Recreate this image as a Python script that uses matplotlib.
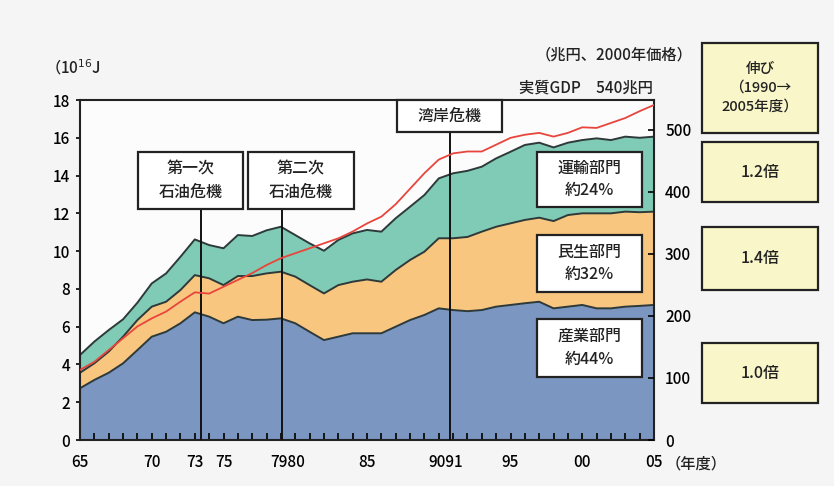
import numpy as np
import matplotlib
matplotlib.use('Agg')
from matplotlib import pyplot as plt
from matplotlib.patches import Rectangle

plt.rcParams['font.family'] = ['Noto Sans CJK JP', 'DejaVu Sans']
plt.rcParams['font.weight'] = 'medium'

years = np.arange(1965, 2006)
# energy consumption by sector (10^16 J)
industry = [2.74, 3.18, 3.56, 4.06, 4.76, 5.47, 5.73, 6.18, 6.76, 6.53,
            6.18, 6.53, 6.35, 6.37, 6.44, 6.18, 5.73, 5.29, 5.47, 5.65,
            5.65, 5.65, 6.00, 6.35, 6.62, 6.97, 6.88, 6.82, 6.88, 7.06,
            7.15, 7.24, 7.32, 6.97, 7.06, 7.15, 6.97, 6.97, 7.06, 7.10, 7.15]
civil = [0.82, 0.88, 1.12, 1.41, 1.59, 1.59, 1.59, 1.76, 1.97, 2.03,
         2.02, 2.15, 2.33, 2.45, 2.47, 2.47, 2.47, 2.47, 2.73, 2.73,
         2.85, 2.73, 3.00, 3.18, 3.35, 3.71, 3.80, 3.93, 4.15, 4.23,
         4.32, 4.41, 4.45, 4.62, 4.85, 4.85, 5.03, 5.03, 5.03, 4.96, 4.94]
transport = [0.94, 1.15, 1.14, 0.92, 0.92, 1.23, 1.50, 1.76, 1.89, 1.76,
             1.95, 2.17, 2.12, 2.28, 2.38, 2.20, 2.21, 2.26, 2.39, 2.56,
             2.62, 2.65, 2.74, 2.82, 3.00, 3.17, 3.44, 3.50, 3.44, 3.62,
             3.79, 3.97, 3.97, 3.90, 3.83, 3.88, 3.97, 3.88, 3.97, 3.94, 3.97]
# real GDP (trillion yen, 2000 prices)
gdp = [113, 126, 145, 164, 183, 196, 207, 223, 238, 236,
       247, 258, 269, 282, 293, 301, 309, 317, 325, 336,
       349, 360, 380, 405, 430, 452, 462, 465, 465, 476,
       487, 492, 495, 489, 495, 504, 503, 511, 519, 530, 540]

# label positions (79/80 and 90/91 are printed run together)
label_pos = [1965, 1970, 1973, 1975, 1979.5, 1985, 1990.5, 1995, 2000, 2005]
label_txt = ['65', '70', '73', '75', '7980', '85', '9091', '95', '00', '05']

events = [1973.4, 1979.1, 1990.8]
event_labels = ['第一次\n石油危機', '第二次\n石油危機', '湾岸危機']
sector_labels = ['産業部門\n約44%', '民生部門\n約32%', '運輸部門\n約24%']
growth_title = '伸び\n（1990→\n2005年度）'
growth_labels = ['1.0倍', '1.4倍', '1.2倍']

W, H = 834, 486
fig = plt.figure(figsize=(W / 100, H / 100), dpi=100, facecolor='#f5f5f5')
ax = fig.add_axes([80 / W, 1 - 440 / H, 574 / W, 340 / H])
ax.set_facecolor('#fcfcfc')

ax.stackplot(years, industry, civil, transport,
             colors=['#7b96c0', '#f8c67f', '#7fcbb5'], lw=0)
cum = np.cumsum([industry, civil, transport], axis=0)
for c in cum:
    ax.plot(years, c, color='#2e3a3a', lw=1.4)

ax.set_xlim(1965, 2005)
ax.set_ylim(0, 18)
ax.set_yticks(range(0, 19, 2))
ax.xaxis.remove_overlapping_locs = False
ax.set_xticks(years)
ax.set_xticklabels([])
ax.set_xticks(label_pos, minor=True)
ax.set_xticklabels(label_txt, minor=True)
ax.tick_params(axis='x', which='major', direction='in', length=5, width=1.2)
ax.tick_params(axis='x', which='minor', length=0, pad=10, labelsize=11)
ax.tick_params(axis='y', direction='out', length=3, width=1.2, pad=4, labelsize=11)
for s in ax.spines.values():
    s.set_linewidth(1.5)
    s.set_color('#222222')

ax2 = ax.twinx()
ax2.plot(years, gdp, color='#e8453c', lw=1.3)
ax2.set_ylim(0, 548)
ax2.set_yticks(range(0, 501, 100))
ax2.tick_params(axis='y', direction='in', length=4, width=1.2, pad=8, labelsize=11)
for s in ax2.spines.values():
    s.set_visible(False)


def box(x0, y0, x1, y1, text, fc='white', fs=11.5):
    rect = Rectangle((x0 / W, 1 - y1 / H), (x1 - x0) / W, (y1 - y0) / H,
                     transform=fig.transFigure, fc=fc, ec='#222222', lw=1.6, zorder=10)
    fig.add_artist(rect)
    fig.text((x0 + x1) / 2 / W, 1 - (y0 + y1) / 2 / H, text, ha='center', va='center',
             multialignment='center', fontsize=fs, linespacing=1.45, zorder=11,
             color='#222222')


# event lines and boxes
ev_boxes = [(138, 152, 243, 209), (248, 152, 354, 209), (397, 100, 502, 132)]
for ev, lab, (x0, y0, x1, y1) in zip(events, event_labels, ev_boxes):
    ax.axvline(ev, ymin=0, ymax=(440 - y1) / 340, color='#111111', lw=1.4, zorder=5)
    box(x0, y0, x1, y1, lab)

# sector labels
sec_boxes = [(537, 319, 642, 377), (537, 235, 642, 292), (537, 152, 642, 207)]
for lab, (x0, y0, x1, y1) in zip(sector_labels, sec_boxes):
    box(x0, y0, x1, y1, lab)

# growth boxes
yellow = '#f9f6c9'
box(702, 43, 818, 133, growth_title, fc=yellow, fs=10.5)
grow_boxes = [(702, 343, 818, 403), (702, 227, 818, 290), (702, 142, 818, 202)]
for lab, (x0, y0, x1, y1) in zip(growth_labels, grow_boxes):
    box(x0, y0, x1, y1, lab, fc=yellow)

fig.text(45 / W, 1 - 68 / H, '（10$^{16}$J', ha='left', va='center', fontsize=11, color='#222222')
fig.text(692 / W, 1 - 55 / H, '（兆円、2000年価格）', ha='right', va='center', fontsize=11, color='#222222')
fig.text(653 / W, 1 - 88 / H, '実質GDP　540兆円', ha='right', va='center', fontsize=11, color='#222222')
fig.text(666 / W, 1 - 464 / H, '（年度）', ha='left', va='center', fontsize=11, color='#222222')

fig.savefig('out.png', dpi=100, facecolor=fig.get_facecolor())
